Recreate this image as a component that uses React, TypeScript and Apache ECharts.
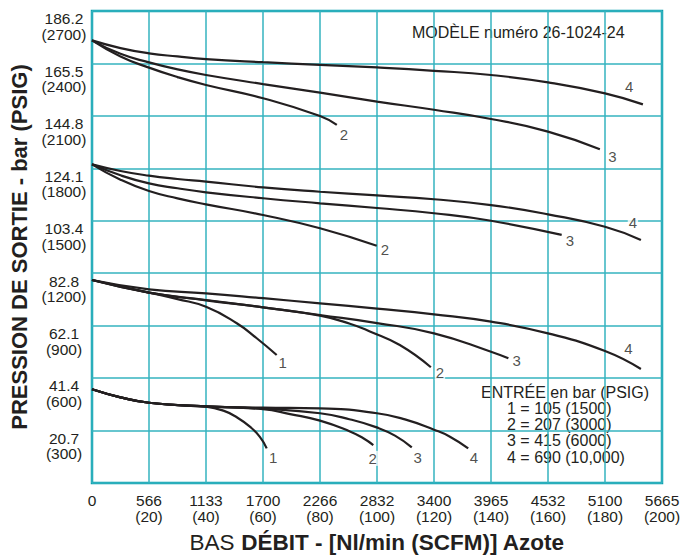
import React, { useEffect, useRef } from "react";
import * as echarts from "echarts";

// ---- Tick labels ----
const xTickNl = ["0", "566", "1133", "1700", "2266", "2832", "3400", "3965", "4532", "5100", "5665"];
const xTickScfm = ["", "(20)", "(40)", "(60)", "(80)", "(100)", "(120)", "(140)", "(160)", "(180)", "(200)"];
const yTickBar = ["", "20.7", "41.4", "62.1", "82.8", "103.4", "124.1", "144.8", "165.5", "186.2"];
const yTickPsig = ["", "(300)", "(600)", "(900)", "(1200)", "(1500)", "(1800)", "(2100)", "(2400)", "(2700)"];

// ---- Curves: [SCFM, PSIG] ----
const top4 = [[0, 2532], [10, 2488], [20, 2458], [30, 2440], [40, 2425], [60, 2407], [80, 2392], [100, 2377], [120, 2358], [140, 2334], [160, 2292], [180, 2229], [193.3, 2166]];
const top3 = [[0, 2532], [10, 2455], [20, 2406], [30, 2366], [40, 2334], [60, 2282], [80, 2233], [100, 2182], [120, 2135], [140, 2082], [160, 2010], [178.2, 1909]];
const top2 = [[0, 2532], [10, 2440], [20, 2376], [30, 2322], [40, 2277], [60, 2201], [80, 2099], [85.9, 2048]];

const mid4 = [[0, 1823], [10, 1785], [20, 1758], [30, 1739], [40, 1724], [60, 1691], [80, 1666], [100, 1645], [120, 1623], [140, 1590], [160, 1537], [180, 1466], [192.6, 1390]];
const mid3 = [[0, 1823], [10, 1760], [20, 1714], [30, 1686], [40, 1663], [60, 1629], [80, 1600], [100, 1573], [120, 1543], [140, 1500], [164.8, 1419]];
const mid2 = [[0, 1823], [10, 1735], [20, 1670], [30, 1628], [40, 1594], [60, 1533], [80, 1457], [99.9, 1357]];

const low4 = [[0, 1161], [20, 1108], [40, 1085], [60, 1057], [80, 1028], [100, 998], [120, 965], [140, 923], [160, 856], [180, 755], [192.6, 652]];
const low3 = [[0, 1161], [20, 1089], [40, 1047], [60, 1005], [80, 961], [100, 915], [120, 856], [140, 751], [146.1, 713]];
const low2 = [[0, 1161], [20, 1089], [40, 1045], [60, 1005], [80, 957], [90.5, 911], [97.5, 867], [108, 789], [118.9, 662]];
const low1 = [[0, 1161], [20, 1089], [30, 1052], [40, 1008], [50.8, 914], [57.8, 828], [64.8, 732]];

const btm4 = [[0, 536], [10, 490], [20, 459], [40, 438], [60, 431], [80, 427], [100, 399], [109.8, 364], [120, 305], [125.6, 265], [132, 198]];
const btm3 = [[0, 536], [10, 490], [20, 459], [40, 438], [60, 425], [80, 399], [90.3, 365], [99.9, 318], [106.3, 271], [112.2, 204]];
const btm2 = [[0, 536], [10, 490], [20, 459], [40, 438], [60, 422], [69.5, 394], [80, 357], [90.5, 295], [95.2, 256], [98.7, 217]];
const btm1 = [[0, 536], [10, 490], [20, 459], [30, 446], [40, 437], [46.1, 414], [50.8, 376], [55.4, 322], [58.9, 264], [61.3, 198]];

// ---- Curve number labels: [text, SCFM, PSIG] ----
const curveLabels: [string, number, number][] = [
  ["2", 88.4, 1991], ["3", 182.6, 1870], ["4", 188.5, 2267],
  ["2", 102.8, 1333], ["3", 167.7, 1386], ["4", 189.8, 1489],
  ["1", 66.9, 688], ["2", 122.1, 631], ["3", 149, 700], ["4", 188.2, 767],
  ["1", 63.6, 147], ["2", 98.5, 141], ["3", 114.3, 147], ["4", 134, 147],
];

const modelText = "MODÈLE numéro 26-1024-24";
const legendTitle = "ENTRÉE en bar (PSIG)";
const legendLines = ["1 = 105 (1500)", "2 = 207 (3000)", "3 = 415 (6000)", "4 = 690 (10,000)"];

const FONT = '"Liberation Sans", Arial, Helvetica, sans-serif';
const INK = "#231f20";
const GRID = "#35b3bf";
const BORDER = "#0aa0ae";

export default function App() {
  const ref = useRef<HTMLDivElement>(null);
  useEffect(() => {
    document.body.style.margin = "0";
    if (!ref.current) return;
    const chart = echarts.init(ref.current, null, { renderer: "svg" });
    const curves = [top4, top3, top2, mid4, mid3, mid2, low4, low3, low2, low1, btm4, btm3, btm2, btm1];
    const series: any[] = curves.map((d) => ({
      type: "line",
      data: d,
      smooth: 0.5,
      symbol: "none",
      silent: true,
      lineStyle: { color: INK, width: 2.2 },
      z: 3,
    }));
    series.push({
      type: "scatter",
      data: curveLabels.map(([t, x, y]) => ({ name: t, value: [x, y] })),
      symbolSize: 1,
      silent: true,
      itemStyle: { color: "rgba(0,0,0,0)" },
      label: {
        show: true,
        position: "inside",
        formatter: "{b}",
        color: INK,
        fontSize: 15,
        fontFamily: FONT,
        backgroundColor: "#fff",
        padding: [0, 1],
      },
      z: 5,
    });
    const legendGraphics: any[] = [
      {
        type: "text",
        left: 481,
        top: 384,
        style: { text: legendTitle, font: `16px ${FONT}`, fill: INK },
      },
      ...legendLines.map((t, i) => ({
        type: "text",
        left: 507,
        top: 400 + i * 16.4,
        style: { text: t, font: `16px ${FONT}`, fill: INK },
      })),
      {
        type: "text",
        left: 412,
        top: 24,
        style: { text: modelText, font: `16px ${FONT}`, fill: INK },
      },
    ];
    chart.setOption({
      animation: false,
      grid: {
        show: true,
        left: 92,
        right: 26,
        top: 11,
        bottom: 74,
        outerBoundsMode: "none",
        containLabel: false,
        borderColor: BORDER,
        borderWidth: 2.5,
        backgroundColor: "#fff",
      },
      xAxis: {
        type: "value",
        min: 0,
        max: 200,
        interval: 20,
        axisLine: { show: false },
        axisTick: { show: false },
        splitLine: { show: true, lineStyle: { color: GRID, width: 1.5 } },
        axisLabel: {
          color: INK,
          fontFamily: FONT,
          fontSize: 15.5,
          lineHeight: 16.5,
          margin: 9,
          interval: 0,
          hideOverlap: false,
          showMinLabel: true,
          showMaxLabel: true,
          formatter: (v: number) => {
            const i = Math.round(v / 20);
            return xTickScfm[i] ? `${xTickNl[i]}\n${xTickScfm[i]}` : xTickNl[i];
          },
        },
        name: "{a|BAS }{b|DÉBIT - [Nl/min (SCFM)] Azote}",
        nameLocation: "middle",
        nameGap: 48,
        nameTextStyle: {
          rich: {
            a: { fontSize: 22.5, fontWeight: "normal", fontFamily: FONT, color: INK },
            b: { fontSize: 22.5, fontWeight: "bold", fontFamily: FONT, color: INK },
          },
        },
      },
      yAxis: {
        type: "value",
        min: 0,
        max: 2700,
        interval: 300,
        axisLine: { show: false },
        axisTick: { show: false },
        splitLine: { show: true, lineStyle: { color: GRID, width: 1.5 } },
        axisLabel: {
          color: INK,
          fontFamily: FONT,
          fontSize: 15.5,
          lineHeight: 15.6,
          margin: 28,
          align: "center",
          verticalAlign: "top",
          interval: 0,
          hideOverlap: false,
          showMinLabel: true,
          showMaxLabel: true,
          formatter: (v: number) => {
            const i = Math.round(v / 300);
            return yTickBar[i] ? `${yTickBar[i]}\n${yTickPsig[i]}` : "";
          },
        },
        name: "PRESSION DE SORTIE - bar (PSIG)",
        nameLocation: "middle",
        nameRotate: 90,
        nameGap: 58,
        nameTextStyle: { fontSize: 22, fontWeight: "bold", fontFamily: FONT, color: INK },
      },
      graphic: legendGraphics,
      series,
    });
    return () => chart.dispose();
  }, []);
  return <div ref={ref} style={{ width: 688, height: 557 }} />;
}
